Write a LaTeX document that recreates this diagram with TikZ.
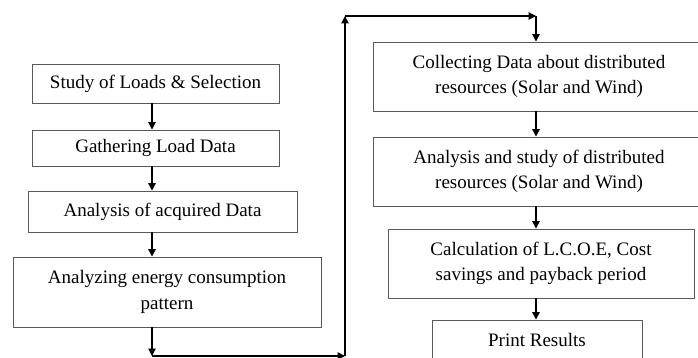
\documentclass[tikz,border=0pt]{standalone}
\usepackage{fontspec}
\setmainfont{Liberation Serif}
\usetikzlibrary{arrows.meta,calc}
\begin{document}
\begin{tikzpicture}[x=1pt,y=-1pt,
  box/.style={draw=black!65,line width=0.9pt,inner sep=0pt,align=center,
    font=\fontsize{19}{25.5}\selectfont,text=black},
  arr/.style={draw=black,line width=1.2pt,-{Triangle[length=7.5pt,width=7.5pt]}}]
\useasboundingbox (0,0) rectangle (698,358);
\begin{scope}
\clip (0,0) rectangle (698,358);
\node[box,minimum width=247pt,minimum height=39pt] (b1) at (155.5,83.5) {Study of Loads \& Selection};
\node[box,minimum width=247pt,minimum height=36pt] (b2) at (155.5,148) {Gathering Load Data};
\node[box,minimum width=269pt,minimum height=41pt] (b3) at (162.5,211.5) {Analysis of acquired Data};
\node[box,minimum width=308pt,minimum height=70pt] (b4) at (167,292) {Analyzing energy consumption\\pattern};
\node[box,minimum width=332pt,minimum height=69pt] (b5) at (539,76.5) {Collecting Data about distributed\\resources (Solar and Wind)};
\node[box,minimum width=332pt,minimum height=69pt] (b6) at (539,171.5) {Analysis and study of distributed\\resources (Solar and Wind)};
\node[box,minimum width=306pt,minimum height=69pt] (b7) at (541,263.5) {Calculation of L.C.O.E, Cost\\savings and payback period};
\node[box,minimum width=210pt,minimum height=40pt] (b8) at (537,340) {Print Results};
\end{scope}
\coordinate (L) at (152,0);
\coordinate (R) at (536,0);
\coordinate (c1) at (152,356);
\coordinate (c2) at (345,356);
\coordinate (c3) at (345,16);
\coordinate (c4) at (536,16);
\draw[arr] (b1.south -| L) -- (b2.north -| L);
\draw[arr] (b2.south -| L) -- (b3.north -| L);
\draw[arr] (b3.south -| L) -- (b4.north -| L);
\draw[arr] (b4.south -| L) -- (c1);
\draw[arr] (c1) -- (c2);
\draw[arr] (c2) -- (c3);
\draw[arr] (c3) -- (c4);
\draw[arr] (c4) -- (b5.north -| R);
\draw[arr] (b5.south -| R) -- (b6.north -| R);
\draw[arr] (b6.south -| R) -- (b7.north -| R);
\draw[arr] (b7.south -| R) -- (b8.north -| R);
\end{tikzpicture}
\end{document}
